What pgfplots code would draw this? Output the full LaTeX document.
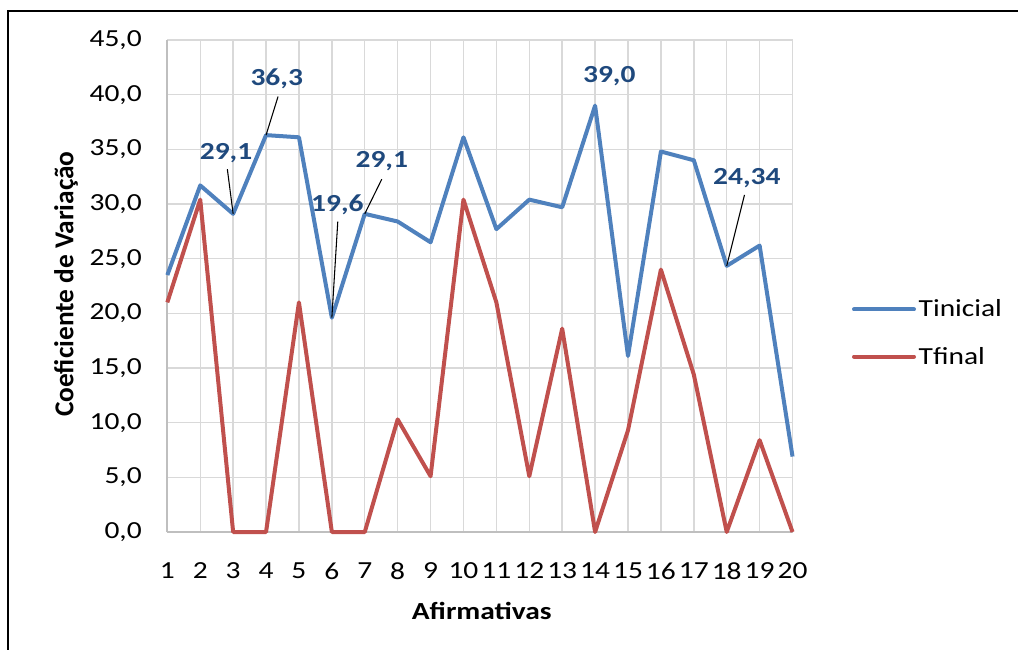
\documentclass[border=0pt]{standalone}
\usepackage{pgfplots}
\pgfplotsset{compat=1.18}
\usepackage{fontspec}
\setmainfont{Carlito}[FakeStretch=1.2]
\newfontfamily\ylabfont{Carlito}
\definecolor{cblue}{HTML}{4F81BD}
\definecolor{cred}{HTML}{C0504D}
\definecolor{clab}{HTML}{1F497D}
\definecolor{cgrid}{HTML}{D9D9D9}
\definecolor{caxis}{HTML}{BFBFBF}
\pgfplotstableread{
x ti tf
1 23.5 21.0
2 31.7 30.4
3 29.1 0
4 36.3 0
5 36.1 21.0
6 19.6 0
7 29.1 0
8 28.4 10.3
9 26.5 5.1
10 36.1 30.4
11 27.7 21.0
12 30.4 5.1
13 29.7 18.6
14 39.0 0
15 16.1 9.3
16 34.8 24.0
17 34.0 14.4
18 24.34 0
19 26.2 8.4
20 6.9 0
}\datatab
\begin{document}
\begin{tikzpicture}
\draw[line width=1.5pt] (6pt,-4pt) -- (6pt,479.25pt) -- (770pt,479.25pt);
\begin{axis}[
  at={(125.5pt,88.5pt)}, anchor=south west,
  scale only axis, width=468.9pt, height=369pt,
  xmin=1, xmax=20, ymin=0, ymax=45,
  xtick={1,...,20}, ytick={0,5,...,45},
  grid=major,
  major grid style={draw=cgrid, line width=1.1pt},
  tick style={draw=none},
  axis x line*=bottom, axis y line*=left,
  axis line style={draw=caxis, line width=1.3pt, -},
  clip=false,
  /pgf/number format/assume math mode=true,
  ticklabel style={font=\fontsize{18.4}{22}\selectfont, inner sep=0pt},
  yticklabel style={/pgf/number format/.cd, fixed, fixed zerofill, precision=1, use comma, /tikz/.cd, xshift=-19pt},
  xticklabel style={yshift=-23pt},
  xlabel={\textbf{Afirmativas}},
  xlabel style={at={(axis description cs:0.503,-0.1606)}, anchor=center, font=\fontsize{18.4}{22}\selectfont},
  ylabel={\ylabfont\bfseries Coeficiente de Variação},
  ylabel style={at={(axis description cs:-0.162,0.504)}, anchor=center, rotate=0, font=\fontsize{20.5}{24}\selectfont},
  legend style={at={(axis description cs:1.0947,0.4045)}, anchor=west, draw=none, fill=none,
    inner sep=0pt, row sep=17pt, font=\fontsize{18.4}{22}\selectfont,
    nodes={inner sep=2pt}},
  legend cell align=left,
  legend image code/.code={\draw[#1, line width=3pt, line cap=round] (0pt,0pt) -- (45pt,0pt);},
]
\addplot[cblue, line width=3pt, line join=round] table[x=x, y=ti] {\datatab};
\addlegendentry{Tinicial}
\addplot[cred, line width=3pt, line join=round] table[x=x, y=tf] {\datatab};
\addlegendentry{Tfinal}
\begin{scope}[every node/.style={font=\bfseries\fontsize{18.4}{22}\selectfont, text=clab, inner sep=0pt}]
\node at (axis cs:4.325,41.42) {36,3};
\node at (axis cs:2.784,34.65) {29,1};
\node at (axis cs:6.167,29.92) {19,6};
\node at (axis cs:7.517,33.88) {29,1};
\node at (axis cs:14.43,41.66) {39,0};
\node at (axis cs:18.61,32.37) {24,34};
\end{scope}
\begin{scope}[line width=0.8pt, black]
\draw (axis cs:4.365,39.83) -- (axis cs:4,36.3);
\draw (axis cs:2.824,33.18) -- (axis cs:3,29.1);
\draw (axis cs:6.18,28.39) -- (axis cs:6,19.6);
\draw (axis cs:7.517,32.27) -- (axis cs:7,29.1);
\draw (axis cs:18.54,30.83) -- (axis cs:18,24.34);
\end{scope}
\end{axis}
\pgfresetboundingbox
\useasboundingbox (0,0) rectangle (763.5pt,487.5pt);
\end{tikzpicture}
\end{document}
